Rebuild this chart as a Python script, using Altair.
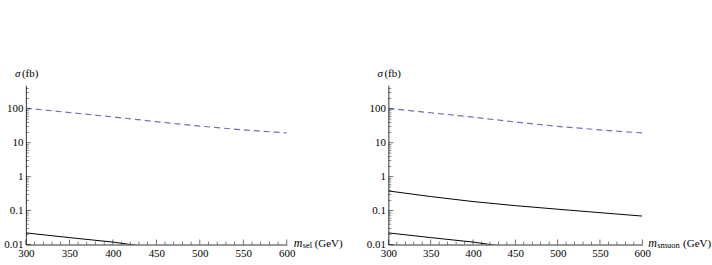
import altair as alt
import pandas as pd

# ---- data ----
mass_dash = [300, 350, 400, 450, 500, 550, 600]
sel_dash = [105, 78, 58, 42, 31, 24, 19.5]
smuon_dash = [103, 77, 57, 41, 30.5, 24, 19.5]

mass_low = [300, 350, 400, 420, 430]
sel_low = [0.022, 0.016, 0.0118, 0.0100, 0.0093]
smuon_low = [0.022, 0.016, 0.0118, 0.0100, 0.0093]

mass_mid = [300, 350, 400, 450, 500, 550, 600]
smuon_mid = [0.38, 0.26, 0.185, 0.14, 0.11, 0.087, 0.069]

x_major = [300, 350, 400, 450, 500, 550, 600]
x_minor = [310, 320, 330, 340, 360, 370, 380, 390, 410, 420, 430, 440,
           460, 470, 480, 490, 510, 520, 530, 540, 560, 570, 580, 590]
y_major = [0.01, 0.1, 1, 10, 100]
y_minor = [0.02, 0.03, 0.04, 0.05, 0.06, 0.07, 0.08, 0.09,
           0.2, 0.3, 0.4, 0.5, 0.6, 0.7, 0.8, 0.9,
           2, 3, 4, 5, 6, 7, 8, 9,
           20, 30, 40, 50, 60, 70, 80, 90, 200, 300, 400]

H = 160
FONT = "'Liberation Serif', 'Times New Roman', serif"
DASH_COLOR = "#7070b6"

xscale = alt.Scale(domain=[300, 600], nice=False)
yscale = alt.Scale(type="log", domain=[0.01, 500], nice=False)


def text_layer(txt, x, y, size=11, style="normal"):
    return alt.Chart(pd.DataFrame({"t": [txt]})).mark_text(
        font=FONT, fontSize=size, fontStyle=style, align="left",
        baseline="alphabetic", color="black"
    ).encode(text="t:N", x=alt.value(x), y=alt.value(y))


def panel(W, dash_vals, solid_sets, sub, m_off, sub_off, gev_off):
    base_x = alt.X("m:Q", scale=xscale,
                   axis=alt.Axis(values=x_major, ticks=False, grid=False,
                                 domainColor="black", domainWidth=0.8,
                                 labelFont=FONT, labelFontSize=11,
                                 labelColor="black", labelPadding=3,
                                 title=None, labelFlush=False))
    base_y = alt.Y("s:Q", scale=yscale,
                   axis=alt.Axis(values=y_major, format="~g", ticks=False,
                                 grid=False, domainColor="black",
                                 domainWidth=0.8, labelFont=FONT,
                                 labelFontSize=11, labelColor="black",
                                 labelPadding=3, title=None,
                                 minExtent=26, maxExtent=26))

    dash = alt.Chart(pd.DataFrame({"m": mass_dash, "s": dash_vals})).mark_line(
        color=DASH_COLOR, strokeDash=[6, 4], strokeWidth=1.2, clip=True
    ).encode(x=base_x, y=base_y)

    layers = [dash]
    for mx, vals in solid_sets:
        layers.append(
            alt.Chart(pd.DataFrame({"m": mx, "s": vals})).mark_line(
                color="black", strokeWidth=1, clip=True
            ).encode(x=alt.X("m:Q", scale=xscale), y=alt.Y("s:Q", scale=yscale))
        )

    # ticks drawn inside the frame
    layers.append(
        alt.Chart(pd.DataFrame({"m": x_major})).mark_tick(
            color="black", thickness=0.8, size=5, orient="vertical"
        ).encode(x=alt.X("m:Q", scale=xscale), y=alt.value(H - 2.5))
    )
    layers.append(
        alt.Chart(pd.DataFrame({"m": x_minor})).mark_tick(
            color="black", thickness=0.7, size=3, orient="vertical"
        ).encode(x=alt.X("m:Q", scale=xscale), y=alt.value(H - 1.5))
    )
    layers.append(
        alt.Chart(pd.DataFrame({"s": y_major})).mark_tick(
            color="black", thickness=0.8, size=5, orient="horizontal"
        ).encode(y=alt.Y("s:Q", scale=yscale), x=alt.value(2.5))
    )
    layers.append(
        alt.Chart(pd.DataFrame({"s": y_minor})).mark_tick(
            color="black", thickness=0.6, size=3, orient="horizontal"
        ).encode(y=alt.Y("s:Q", scale=yscale), x=alt.value(1.5))
    )

    # axis titles
    layers.append(text_layer("σ", -11, -8, 11, "italic"))
    layers.append(text_layer("(fb)", -4, -8, 11))
    layers.append(text_layer("m", W + m_off, H + 2, 12, "italic"))
    layers.append(text_layer(sub, W + sub_off, H + 4, 8.5))
    layers.append(text_layer("(GeV)", W + gev_off, H + 2, 11))

    return alt.layer(*layers).properties(width=W, height=H)


left = panel(262, sel_dash, [(mass_low, sel_low)], "sel", 7, 16, 28)
right = panel(255, smuon_dash, [(mass_mid, smuon_mid), (mass_low, smuon_low)],
              "smuon", 6, 15, 41)

chart = alt.hconcat(left, right, spacing=19).properties(
    padding={"left": 0, "top": 68, "right": 0, "bottom": 0},
    background="white",
).configure_view(stroke=None)

chart.save("out.html", embed_options={"renderer": "svg", "actions": False})
